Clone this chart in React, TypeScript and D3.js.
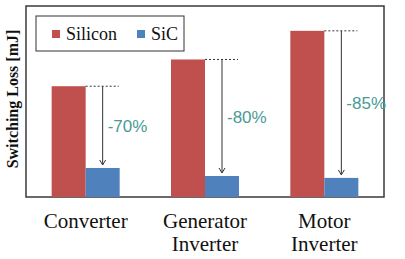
import React from "react";
import * as d3 from "d3";

const categories = ["Converter", "Generator Inverter", "Motor Inverter"];
const silicon = [58, 72, 87];
const sic = [15.2, 11, 10];
const reductions = ["-70%", "-80%", "-85%"];
const seriesNames = ["Silicon", "SiC"];
const colors = ["#C0504D", "#4F81BD"];

const W = 405;
const H = 259;
const SERIF = "'Liberation Serif', 'Times New Roman', serif";
const SANS = "'Liberation Sans', Arial, sans-serif";

export default function App() {
  const M = { l: 26, r: 21, t: 6, b: 62 };
  const x = d3
    .scaleBand<string>()
    .domain(categories)
    .range([M.l, W - M.r])
    .paddingInner(0.43)
    .paddingOuter(0.215);
  const y = d3.scaleLinear().domain([0, 100]).range([H - M.b, M.t]);
  const bw = x.bandwidth() / 2;
  const lx = [52, 137];

  return (
    <svg
      width={W}
      height={H}
      style={{ position: "absolute", left: 0, top: 0, background: "#fff", fontFamily: SERIF }}
    >
      <rect
        x={M.l}
        y={M.t}
        width={W - M.r - M.l}
        height={H - M.b - M.t}
        fill="#fff"
        stroke="#3a3a3a"
        strokeWidth={1.5}
      />
      {categories.map((c, i) => {
        const x0 = x(c) as number;
        const ax = x0 + bw * 1.5;
        const ty = y(sic[i]) - 3;
        return (
          <g key={c}>
            <rect x={x0} y={y(silicon[i])} width={bw} height={y(0) - y(silicon[i])} fill={colors[0]} />
            <rect x={x0 + bw} y={y(sic[i])} width={bw} height={y(0) - y(sic[i])} fill={colors[1]} />
            <line
              x1={x0 + bw}
              x2={x0 + bw * 2 - 1}
              y1={y(silicon[i])}
              y2={y(silicon[i])}
              stroke="#333"
              strokeDasharray="2,2"
            />
            <line x1={ax} x2={ax} y1={y(silicon[i])} y2={ty} stroke="#333" strokeWidth={1} />
            <path
              d={`M${ax - 3},${ty - 5} L${ax},${ty} L${ax + 3},${ty - 5}`}
              fill="none"
              stroke="#333"
              strokeWidth={1}
            />
            <text
              x={ax + 5}
              y={(y(silicon[i]) + y(sic[i])) / 2 + 5}
              fontSize={17}
              fill="#4A9A96"
              style={{ fontFamily: SANS }}
            >
              {reductions[i]}
            </text>
            {c.split(" ").map((w, k) => (
              <text
                key={w}
                x={x0 + bw}
                y={228 + k * 23}
                textAnchor="middle"
                fontSize={21}
                fill="#111"
                style={{ fontFamily: SERIF }}
              >
                {w}
              </text>
            ))}
          </g>
        );
      })}

      <rect x={36} y={16} width={148} height={35} fill="#fff" stroke="#333" strokeWidth={1} />
      {seriesNames.map((s, i) => (
        <g key={s}>
          <rect x={lx[i]} y={30} width={8} height={8} fill={colors[i]} />
          <text x={lx[i] + 14} y={40} fontSize={18} fill="#111" style={{ fontFamily: SERIF }}>
            {s}
          </text>
        </g>
      ))}

      <text
        transform="translate(18,99) rotate(-90)"
        textAnchor="middle"
        fontSize={16}
        fontWeight="bold"
        fill="#111"
        style={{ fontFamily: SERIF }}
      >
        Switching Loss [mJ]
      </text>
    </svg>
  );
}
